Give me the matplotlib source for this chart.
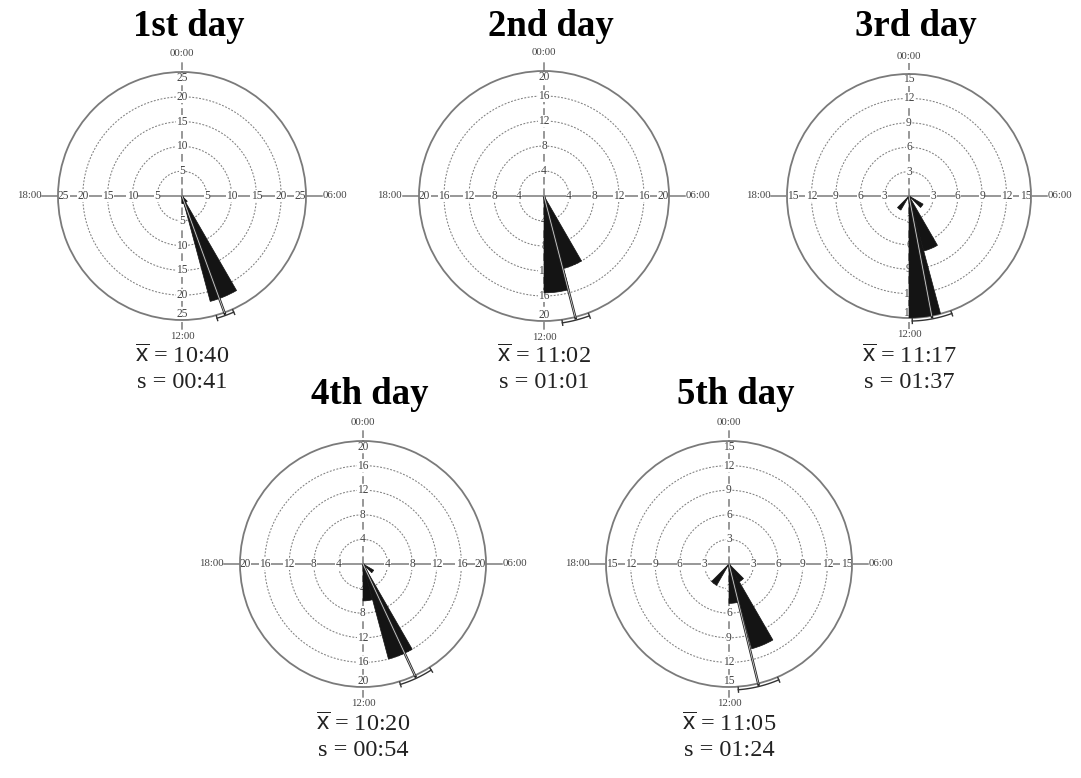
import numpy as np
import matplotlib
matplotlib.use("Agg")
import matplotlib.pyplot as plt

# ---------------- data ----------------
day_titles = ["1st day", "2nd day", "3rd day", "4th day", "5th day"]
bin_start_hours = [8, 9, 10, 11, 12, 13, 14]          # 1-hour bins
day1_counts = [0, 1.5, 22, 1.5, 0, 0, 0]
day2_counts = [0, 0, 12, 15.5, 0, 0, 0]
day3_counts = [2, 0, 7, 15, 0, 0, 2]
day4_counts = [2, 0, 16, 6, 0, 0, 0]
day5_counts = [0, 2.5, 10.7, 4.8, 0, 0, 3]
r_max = [25, 20, 15, 20, 15]
r_step = [5, 4, 3, 4, 3]
mean_times = ["10:40", "11:02", "11:17", "10:20", "11:05"]
sd_times = ["00:41", "01:01", "01:37", "00:54", "01:24"]
ci_half_minutes = [16, 25, 37, 31, 38]
axis_time_labels = ["00:00", "06:00", "12:00", "18:00"]

all_counts = [day1_counts, day2_counts, day3_counts, day4_counts, day5_counts]

# ---------------- layout (pixels) ----------------
W, H = 1081, 778
centers = [(182, 196), (544, 196), (909, 196), (363, 564), (729, 564)]
radii = [124, 125, 122, 123, 123]

plt.rcParams["font.family"] = ["Liberation Serif", "DejaVu Serif"]
plt.rcParams["mathtext.fontset"] = "custom"
plt.rcParams["mathtext.rm"] = "Liberation Sans"
plt.rcParams["mathtext.it"] = "Liberation Sans:italic"

fig = plt.figure(figsize=(W / 100, H / 100), dpi=100)
fig.patch.set_facecolor("white")

GRAY = "#7a7a7a"
LBL = "#444444"
WEDGE = "#141414"


def hm_to_rad(s):
    h, m = s.split(":")
    return (int(h) + int(m) / 60.0) / 24.0 * 2 * np.pi


for i in range(5):
    cx, cy = centers[i]
    R = radii[i]
    ax = fig.add_axes([(cx - R) / W, (H - cy - R) / H, 2 * R / W, 2 * R / H],
                      projection="polar")
    ax.set_theta_zero_location("N")
    ax.set_theta_direction(-1)
    rm = r_max[i]
    ax.set_ylim(0, rm)
    ax.set_xticks([])
    ax.set_yticks([])
    ax.grid(False)
    ax.patch.set_alpha(0)
    ax.spines["polar"].set_color(GRAY)
    ax.spines["polar"].set_linewidth(1.3)

    th = np.linspace(0, 2 * np.pi, 361)
    ticks = np.arange(r_step[i], rm + 0.01, r_step[i])
    for t in ticks[:-1]:
        ax.plot(th, np.full_like(th, t), color="#7f7f7f", lw=0.75,
                ls=(0, (1.8, 1.5)), zorder=1)

    # cross lines
    for ang in (np.pi / 2, 3 * np.pi / 2):
        ax.plot([ang, ang], [0, rm * 1.13], color=GRAY, lw=1.1, zorder=1,
                clip_on=False)
    for ang in (0, np.pi):
        ax.plot([ang, ang], [0, rm * 1.09], color=GRAY, lw=1.1, zorder=1,
                ls=(0, (5, 2.5)), clip_on=False)

    # tick labels on the cross
    for t in ticks:
        rr = t if t < rm else rm * 0.955
        lab = str(int(t))
        for ang in (0, np.pi / 2, np.pi, 3 * np.pi / 2):
            ax.text(ang, rr, lab, ha="center", va="center", fontsize=8.3,
                    color=LBL, zorder=2,
                    bbox=dict(boxstyle="square,pad=0.02", fc="white",
                              ec="none"))

    # hour labels
    ax.text(0, rm * 1.11, axis_time_labels[0], ha="center", va="bottom",
            fontsize=7.8, color=LBL, clip_on=False)
    ax.text(np.pi / 2, rm * 1.135, axis_time_labels[1], ha="left",
            va="center", fontsize=7.8, color=LBL, clip_on=False)
    ax.text(np.pi, rm * 1.10, axis_time_labels[2], ha="center", va="top",
            fontsize=7.8, color=LBL, clip_on=False)
    ax.text(3 * np.pi / 2, rm * 1.135, axis_time_labels[3], ha="right",
            va="center", fontsize=7.8, color=LBL, clip_on=False)

    # rose wedges
    theta = [(h + 0.5) / 24 * 2 * np.pi for h in bin_start_hours]
    ax.bar(theta, all_counts[i], width=2 * np.pi / 24, bottom=0,
           color=WEDGE, edgecolor=WEDGE, lw=0.5, zorder=3, align="center")

    # mean direction and confidence arc
    mu = hm_to_rad(mean_times[i])
    ax.plot([mu, mu], [0, rm * 1.02], color="#222222", lw=1.8, zorder=4,
            clip_on=False, solid_capstyle="butt")
    ax.plot([mu, mu], [0, rm * 1.0], color="#d0d0d0", lw=0.6, zorder=5,
            clip_on=False)
    half = ci_half_minutes[i] / (24 * 60) * 2 * np.pi
    arc = np.linspace(mu - half, mu + half, 40)
    ra = rm * 1.025
    ax.plot(arc, np.full_like(arc, ra), color="#333333", lw=1.0, zorder=4,
            clip_on=False)
    for a in (mu - half, mu + half):
        ax.plot([a, a], [ra - rm * 0.02, ra + rm * 0.02], color="#333333",
                lw=1.0, zorder=4, clip_on=False)

    # title
    fig.text(cx / W + 0.006, 1 - (cy - 170) / H, day_titles[i],
             ha="center", va="center", fontsize=26.5, fontweight="bold",
             color="black")
    # statistics
    fig.text(cx / W, 1 - (cy + 160) / H,
             r"$\overline{\mathrm{x}}$ = " + mean_times[i],
             ha="center", va="center", fontsize=17.5, color="#222222")
    fig.text(cx / W, 1 - (cy + 187) / H, "s = " + sd_times[i],
             ha="center", va="center", fontsize=17.5, color="#222222")

fig.savefig("out.png", dpi=100)
